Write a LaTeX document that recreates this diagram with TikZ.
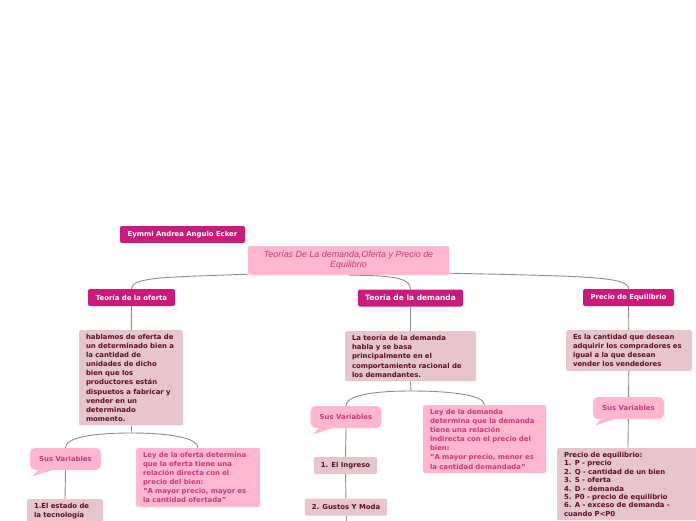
\documentclass[tikz,border=0pt]{standalone}
\usepackage{fontspec}
\setmainfont{DejaVu Sans}
\newfontfamily\titlefont{Liberation Sans}
\definecolor{mapHead}{RGB}{204,26,122}
\definecolor{mapPink}{RGB}{255,182,206}
\definecolor{mapMauve}{RGB}{230,197,204}
\definecolor{mapMaroon}{RGB}{92,16,42}
\definecolor{mapRose}{RGB}{196,60,120}
\definecolor{mapLine}{RGB}{140,140,140}
\newcommand{\mapfont}{\bfseries\fontsize{6.9}{9.1}\selectfont}
\tikzset{
  head/.style={fill=mapHead, text=white, rounded corners=2pt, font=\mapfont, inner xsep=7pt, minimum height=17pt},
  desc/.style={fill=mapMauve, text=mapMaroon, rounded corners=2pt, font=\mapfont, align=left, inner xsep=7pt, inner ysep=4pt, anchor=north},
  ley/.style={desc, fill=mapPink, text=mapRose},
  item/.style={fill=mapMauve, text=mapMaroon, rounded corners=2pt, font=\mapfont, inner xsep=7pt, minimum height=17pt},
  vars/.style={fill=mapPink, text=mapRose, rounded corners=5pt, font=\mapfont, minimum width=71pt, minimum height=22pt},
  conn/.style={draw=mapLine, line width=0.9pt}
}
\newcommand{\bubbletail}[1]{\fill[mapPink] ([xshift=8pt]#1.south west) -- ([xshift=3pt,yshift=-6pt]#1.south west) -- ([xshift=22pt]#1.south west) -- cycle;}
\begin{document}
\begin{tikzpicture}[x=1pt,y=-1pt]
    \useasboundingbox (0,0) rectangle (696,520);
    \clip (0,0) rectangle (696,520);
    \node[head, minimum width=125pt] (author) at (182.5,234.5) {Eymmi Andrea Angulo Ecker};
    \node[fill=mapPink, rounded corners=2pt, minimum width=201pt, minimum height=29pt, text=mapRose, align=center, font=\titlefont\itshape\fontsize{8.9}{10}\selectfont] (root) at (348.5,260.5) {Teorías De La demanda,Oferta y Precio de\\Equilibrio};
    \node[head, minimum width=87pt] (oferta) at (131.5,297.5) {Teoría de la oferta};
    \node[head, minimum width=105pt, font=\bfseries\fontsize{7.5}{9}\selectfont] (demanda) at (410.5,298) {Teoría de la demanda};
    \node[head, minimum width=91pt] (precio) at (628.5,297.5) {Precio de Equilibrio};
    \draw[conn] ([yshift=1pt]root.south west) .. controls +(-80,3) and +(0,-12) .. (oferta.north);
    \draw[conn] (root.south) .. controls +(50,0) and +(0,-10) .. (demanda.north);
    \draw[conn] ([yshift=2pt]root.south east) .. controls +(140,3) and +(0,-12) .. (precio.north);

    \node[desc, text width=90pt] (ofdesc) at (131,330) {hablamos de oferta de\\un determinado bien a\\la cantidad de\\unidades de dicho\\bien que los\\productores están\\dispuetos a fabricar y\\vender en un\\determinado\\momento.};
    \node[desc, text width=117pt] (dedesc) at (410.5,331) {La teoría de la demanda\\habla y se basa\\principalmente en el\\comportamiento racional de\\los demandantes.};
    \node[desc, text width=112pt] (prdesc) at (629,330) {Es la cantidad que desean\\adquirir los compradores es\\igual a la que desean\\vender los vendedores};
    \draw[conn] (oferta) -- (ofdesc);
    \draw[conn] (demanda) -- (dedesc);
    \draw[conn] (precio) -- (prdesc);

    \node[vars] (ofvars) at (65.5,459) {Sus Variables};
    \bubbletail{ofvars}
    \node[ley, text width=110pt] (ofley) at (198,448) {Ley de la oferta determina\\que la oferta tiene una\\relación directa con el\\precio del bien:\\"A mayor precio, mayor es\\la cantidad ofertada"};
    \coordinate (ofsplit) at (131,433);
    \draw[conn] (ofdesc.south) -- (ofsplit);
    \draw[conn] (ofsplit) .. controls +(-40,0) and +(0,-10) .. (ofvars.north);
    \draw[conn] (ofsplit) .. controls +(40,0) and +(0,-10) .. (ofley.north);
    \node[desc, text width=62pt] (estado) at (65,499) {1.El estado de\\la tecnología};
    \draw[conn] (ofvars.south) -- (estado.north);

    \node[vars] (devars) at (346,417) {Sus Variables};
    \bubbletail{devars}
    \node[ley, text width=109pt] (deley) at (484.5,405) {Ley de la demanda\\determina que la demanda\\tiene una relación\\indirecta con el precio del\\bien:\\"A mayor precio, menor es\\la cantidad demandada"};
    \coordinate (desplit) at (411,391);
    \draw[conn] (dedesc.south) -- (desplit);
    \draw[conn] (desplit) .. controls +(-40,0) and +(0,-10) .. (devars.north);
    \draw[conn] (desplit) .. controls +(40,0) and +(0,-10) .. (deley.north);
    \node[item, minimum width=63pt] (ingreso) at (345.5,465.5) {1. El Ingreso};
    \node[item, minimum width=82pt] (gustos) at (346,507) {2. Gustos Y Moda};
    \coordinate (gustosnext) at (346,530);
    \draw[conn] (devars.south) -- (ingreso.north);
    \draw[conn] (ingreso) -- (gustos);
    \draw[conn] (gustos) -- (gustosnext);

    \node[vars] (prvars) at (628.5,408) {Sus Variables};
    \bubbletail{prvars}
    \node[desc, text width=127pt, font=\bfseries\fontsize{6.9}{8.4}\selectfont] (prlist) at (627.5,448) {Precio de equilibrio:\\1. P - precio\\2. Q - cantidad de un bien\\3. S - oferta\\4. D - demanda\\5. P0 - precio de equilibrio\\6. A - exceso de demanda -\\cuando P<P0\\};
    \draw[conn] (prdesc) -- (prvars);
    \draw[conn] (prvars) -- (prlist);
\end{tikzpicture}
\end{document}
